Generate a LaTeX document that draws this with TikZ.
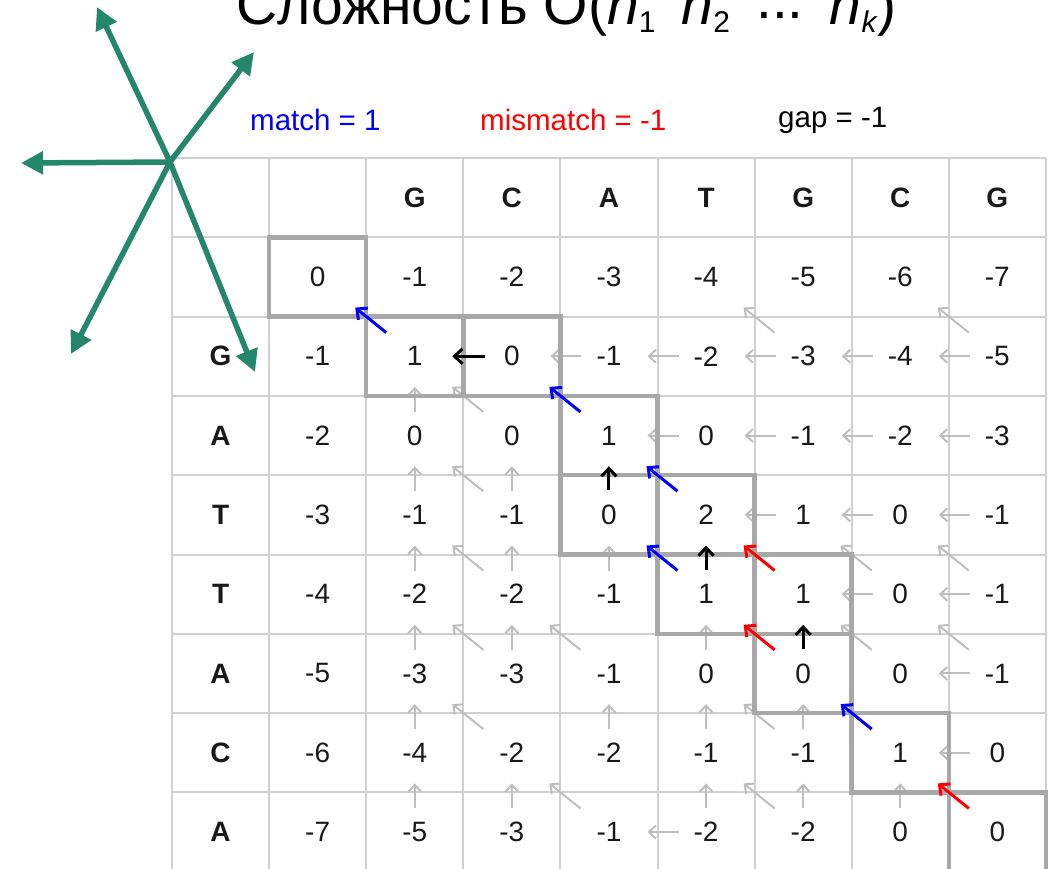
\documentclass[tikz,border=0pt]{standalone}
\usepackage{fontspec}
\setmainfont{Liberation Sans}
\usetikzlibrary{arrows.meta,calc}
\definecolor{gridc}{RGB}{208,208,208}
\definecolor{garrowc}{RGB}{190,190,190}
\definecolor{pathc}{RGB}{168,168,168}
\definecolor{arrgreen}{RGB}{36,134,107}
\newcommand\mysub[1]{\raisebox{-0.15em}{\fontsize{30}{30}\selectfont #1}}
\newcommand\mysep{\kern2pt\raisebox{0.16em}{*}\kern2pt}
\begin{document}
\begin{tikzpicture}[x=1pt,y=-1pt,
  gridline/.style={draw=gridc, line width=2pt},
  cell/.style={minimum width=97.1pt, minimum height=79.3pt, inner sep=0pt, outer sep=0pt, font=\fontsize{28}{28}\selectfont, text=black!90},
  hdr/.style={cell, font=\fontsize{28}{28}\selectfont\bfseries},
  garrow/.style={draw=garrowc, line width=2pt, -{Straight Barb[length=7pt,width=13pt]}},
  carrow/.style={line width=3pt, -{Straight Barb[length=8pt,width=15pt]}},
  pathbox/.style={draw=pathc, line width=4.5pt, line join=miter},
  greenarrow/.style={draw=arrgreen, line width=5.5pt, -{Triangle[length=22pt,width=22pt]}},
  legend/.style={inner sep=0pt, font=\fontsize{29.5}{29.5}\selectfont, anchor=base west}
]
\useasboundingbox (0,0) rectangle (1055,868);
% grid
\foreach \k in {0,...,9} {
  \draw[gridline] ({172+97.1*\k},158) -- ({172+97.1*\k},872);
  \draw[gridline] (172,{158+79.3*\k}) -- (1046,{158+79.3*\k});
}
% values
\foreach \r/\row in {0/{0,-1,-2,-3,-4,-5,-6,-7},
                     1/{-1,1,0,-1,-2,-3,-4,-5},
                     2/{-2,0,0,1,0,-1,-2,-3},
                     3/{-3,-1,-1,0,2,1,0,-1},
                     4/{-4,-2,-2,-1,1,1,0,-1},
                     5/{-5,-3,-3,-1,0,0,0,-1},
                     6/{-6,-4,-2,-2,-1,-1,1,0},
                     7/{-7,-5,-3,-1,-2,-2,0,0}} {
  \foreach \v [count=\ci from 0] in \row {
    \node[cell] (m-\r-\ci) at ({172+97.1*(\ci+1.5)},{158+79.3*(\r+1.5)}) {\v};
  }
}
% headers
\foreach \t [count=\ci] in {G,C,A,T,G,C,G}
  \node[hdr] (h-\ci) at ({172+97.1*(\ci+1.5)},{158+79.3*0.5}) {\t};
\foreach \t [count=\ri] in {G,A,T,T,A,C,A}
  \node[hdr] (l-\ri) at ({172+97.1*0.5},{158+79.3*(\ri+1.5)}) {\t};
% grey arrows
\foreach \r/\c in {1/3,1/4,1/5,1/6,1/7,2/4,2/5,2/6,2/7,3/5,3/6,3/7,4/6,4/7,5/7,6/7,7/4}
  \draw[garrow] ($(m-\r-\c.west)+(21,0)$) -- ($(m-\r-\c.west)+(-10,0)$);
\foreach \r/\c in {2/1,3/1,3/2,4/1,4/2,4/3,5/1,5/2,5/4,6/1,6/3,6/4,6/5,7/1,7/2,7/4,7/5,7/6}
  \draw[garrow] ($(m-\r-\c.north)+(0,16)$) -- ($(m-\r-\c.north)+(0,-9)$);
\foreach \r/\c in {1/5,1/7,2/2,3/2,4/2,4/6,4/7,5/2,5/3,5/6,5/7,6/2,6/5,7/3,7/5}
  \draw[garrow] ($(m-\r-\c.north west)+(20,16)$) -- ($(m-\r-\c.north west)+(-11,-9)$);
% path boxes
\foreach \r/\c in {0/0,1/1,1/2,2/3,3/3,3/4,4/4,4/5,5/5,6/6,7/7}
  \draw[pathbox] (m-\r-\c.north west) rectangle (m-\r-\c.south east);
% coloured arrows
\foreach \r/\c in {1/1,2/3,3/4,4/4,6/6}
  \draw[carrow, draw=blue] ($(m-\r-\c.north west)+(20,16)$) -- ($(m-\r-\c.north west)+(-11,-9)$);
\foreach \r/\c in {4/5,5/5,7/7}
  \draw[carrow, draw=red] ($(m-\r-\c.north west)+(20,16)$) -- ($(m-\r-\c.north west)+(-11,-9)$);
\draw[carrow, draw=black] ($(m-1-2.west)+(22,0)$) -- ($(m-1-2.west)+(-11,0)$);
\foreach \r/\c in {3/3,4/4,5/5}
  \draw[carrow, draw=black] ($(m-\r-\c.north)+(0,15)$) -- ($(m-\r-\c.north)+(0,-9)$);
% legend
\node[legend, text=blue] (lm) at (250,130) {match = 1};
\node[legend, text=red] (lmm) at (480,130) {mismatch = -1};
\node[legend, text=black] (lg) at (778,127) {gap = -1};
% title
\node[inner sep=0pt, anchor=base west, font=\fontsize{57}{57}\selectfont] (title) at (236,24)
  {Сложность O(\textit{n}\mysub{1}\mysep\textit{n}\mysub{2}\mysep\raisebox{0.1em}{...}\mysep\textit{n}\mysub{\textit{k}})};
% green arrows
\coordinate (hub) at (170,162);
\coordinate (g1) at (97,7);
\coordinate (g2) at (254,52);
\coordinate (g3) at (21,163);
\coordinate (g4) at (71,354);
\coordinate (g5) at (255,372);
\foreach \g in {g1,g2,g3,g4,g5}
  \draw[greenarrow] (hub) -- (\g);
\end{tikzpicture}
\end{document}
